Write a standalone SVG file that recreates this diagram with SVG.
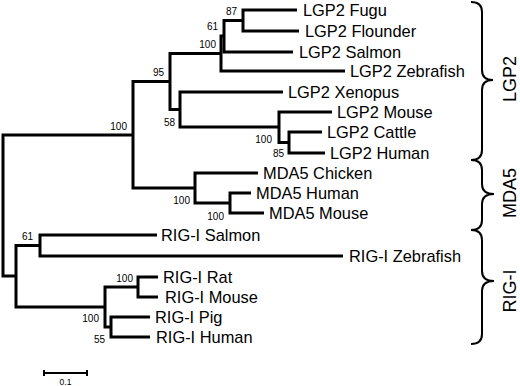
<svg xmlns="http://www.w3.org/2000/svg" width="520" height="386" viewBox="0 0 520 386">
<style>
.br{fill:none;stroke:#000;stroke-width:3;stroke-linejoin:miter}
.lf{font-family:"Liberation Sans",Arial,sans-serif;font-size:16.4px;fill:#000}
.bs{font-family:"Liberation Sans",Arial,sans-serif;font-size:10px;fill:#000;text-anchor:end}
.bc{fill:none;stroke:#000;stroke-width:2}
.cl{font-family:"Liberation Sans",Arial,sans-serif;font-size:18px;fill:#000;text-anchor:middle}
</style>
<rect width="520" height="386" fill="#fff"/>
<g id="connectors">
<path class="br" d="M297 10H243V31H299"/>
<path class="br" d="M243 20.5H224V52H293"/>
<path class="br" d="M224 36H221V71H345"/>
<path class="br" d="M322 132H289V153H325"/>
<path class="br" d="M332 112H279V142.5H289"/>
<path class="br" d="M283 92H180V127H279"/>
<path class="br" d="M221 53.5H170V109.5H180"/>
<path class="br" d="M251 193H230V213H264"/>
<path class="br" d="M258 173H195V203H230"/>
<path class="br" d="M170 81.5H133V188H195"/>
<path class="br" d="M157 235H40V256H343"/>
<path class="br" d="M158 277H138V297H158"/>
<path class="br" d="M150 317H111V337H150"/>
<path class="br" d="M138 287H105V327H111"/>
<path class="br" d="M40 245.5H16V307H105"/>
<path class="br" d="M133 135H3V276H16"/>
</g>
<g id="leaf-lgp2-fugu"><text class="lf" x="303" y="15.5">LGP2 Fugu</text></g>
<g id="leaf-lgp2-flounder"><text class="lf" x="305" y="36.5">LGP2 Flounder</text></g>
<g id="leaf-lgp2-salmon"><text class="lf" x="299" y="57.5">LGP2 Salmon</text></g>
<g id="leaf-lgp2-zebrafish"><text class="lf" x="350" y="76.5">LGP2 Zebrafish</text></g>
<g id="leaf-lgp2-xenopus"><text class="lf" x="288" y="97.5">LGP2 Xenopus</text></g>
<g id="leaf-lgp2-mouse"><text class="lf" x="337" y="117.5">LGP2 Mouse</text></g>
<g id="leaf-lgp2-cattle"><text class="lf" x="327" y="137.5">LGP2 Cattle</text></g>
<g id="leaf-lgp2-human"><text class="lf" x="330" y="158.5">LGP2 Human</text></g>
<g id="leaf-mda5-chicken"><text class="lf" x="263" y="178.5">MDA5 Chicken</text></g>
<g id="leaf-mda5-human"><text class="lf" x="256" y="198.5">MDA5 Human</text></g>
<g id="leaf-mda5-mouse"><text class="lf" x="269" y="218.5">MDA5 Mouse</text></g>
<g id="leaf-rigi-salmon"><text class="lf" x="161" y="240.5">RIG-I Salmon</text></g>
<g id="leaf-rigi-zebrafish"><text class="lf" x="349" y="261.5">RIG-I Zebrafish</text></g>
<g id="leaf-rigi-rat"><text class="lf" x="163" y="282.5">RIG-I Rat</text></g>
<g id="leaf-rigi-mouse"><text class="lf" x="165" y="302.5">RIG-I Mouse</text></g>
<g id="leaf-rigi-pig"><text class="lf" x="155" y="322.5">RIG-I Pig</text></g>
<g id="leaf-rigi-human"><text class="lf" x="156" y="342.5">RIG-I Human</text></g>
<g id="boot-87"><text class="bs" x="237" y="15">87</text></g>
<g id="boot-61a"><text class="bs" x="218" y="30">61</text></g>
<g id="boot-100a"><text class="bs" x="216" y="48">100</text></g>
<g id="boot-95"><text class="bs" x="164" y="76">95</text></g>
<g id="boot-58"><text class="bs" x="175" y="126">58</text></g>
<g id="boot-100b"><text class="bs" x="127" y="130">100</text></g>
<g id="boot-100c"><text class="bs" x="272" y="143">100</text></g>
<g id="boot-85"><text class="bs" x="284" y="157">85</text></g>
<g id="boot-100d"><text class="bs" x="190" y="204">100</text></g>
<g id="boot-100e"><text class="bs" x="224" y="220">100</text></g>
<g id="boot-61b"><text class="bs" x="33" y="240">61</text></g>
<g id="boot-100f"><text class="bs" x="133" y="282">100</text></g>
<g id="boot-100g"><text class="bs" x="99" y="322">100</text></g>
<g id="boot-55"><text class="bs" x="105" y="343">55</text></g>
<g id="clade-lgp2">
<path class="bc" d="M471 2Q482 2 482 12V70Q482 80 493 80Q482 80 482 90V150Q482 160 471 160"/>
<text class="cl" transform="translate(516 79) rotate(-90)">LGP2</text>
</g>
<g id="clade-mda5">
<path class="bc" d="M471 160Q482 160 482 170V184Q482 194 494 194Q482 194 482 204V220Q482 230 471 230"/>
<text class="cl" transform="translate(516 193) rotate(-90)">MDA5</text>
</g>
<g id="clade-rigi">
<path class="bc" d="M471 230Q482 230 482 240V271Q482 281 494 281Q482 281 482 291V334Q482 344 471 344"/>
<text class="cl" transform="translate(516 291) rotate(-90)">RIG-I</text>
</g>
<g id="scale-bar">
<path d="M44 373H87M44 370V376M87 370V376" fill="none" stroke="#000" stroke-width="2"/>
<text x="65.5" y="385" font-family="'Liberation Sans',Arial,sans-serif" font-size="8.5" text-anchor="middle">0.1</text>
</g>
</svg>
